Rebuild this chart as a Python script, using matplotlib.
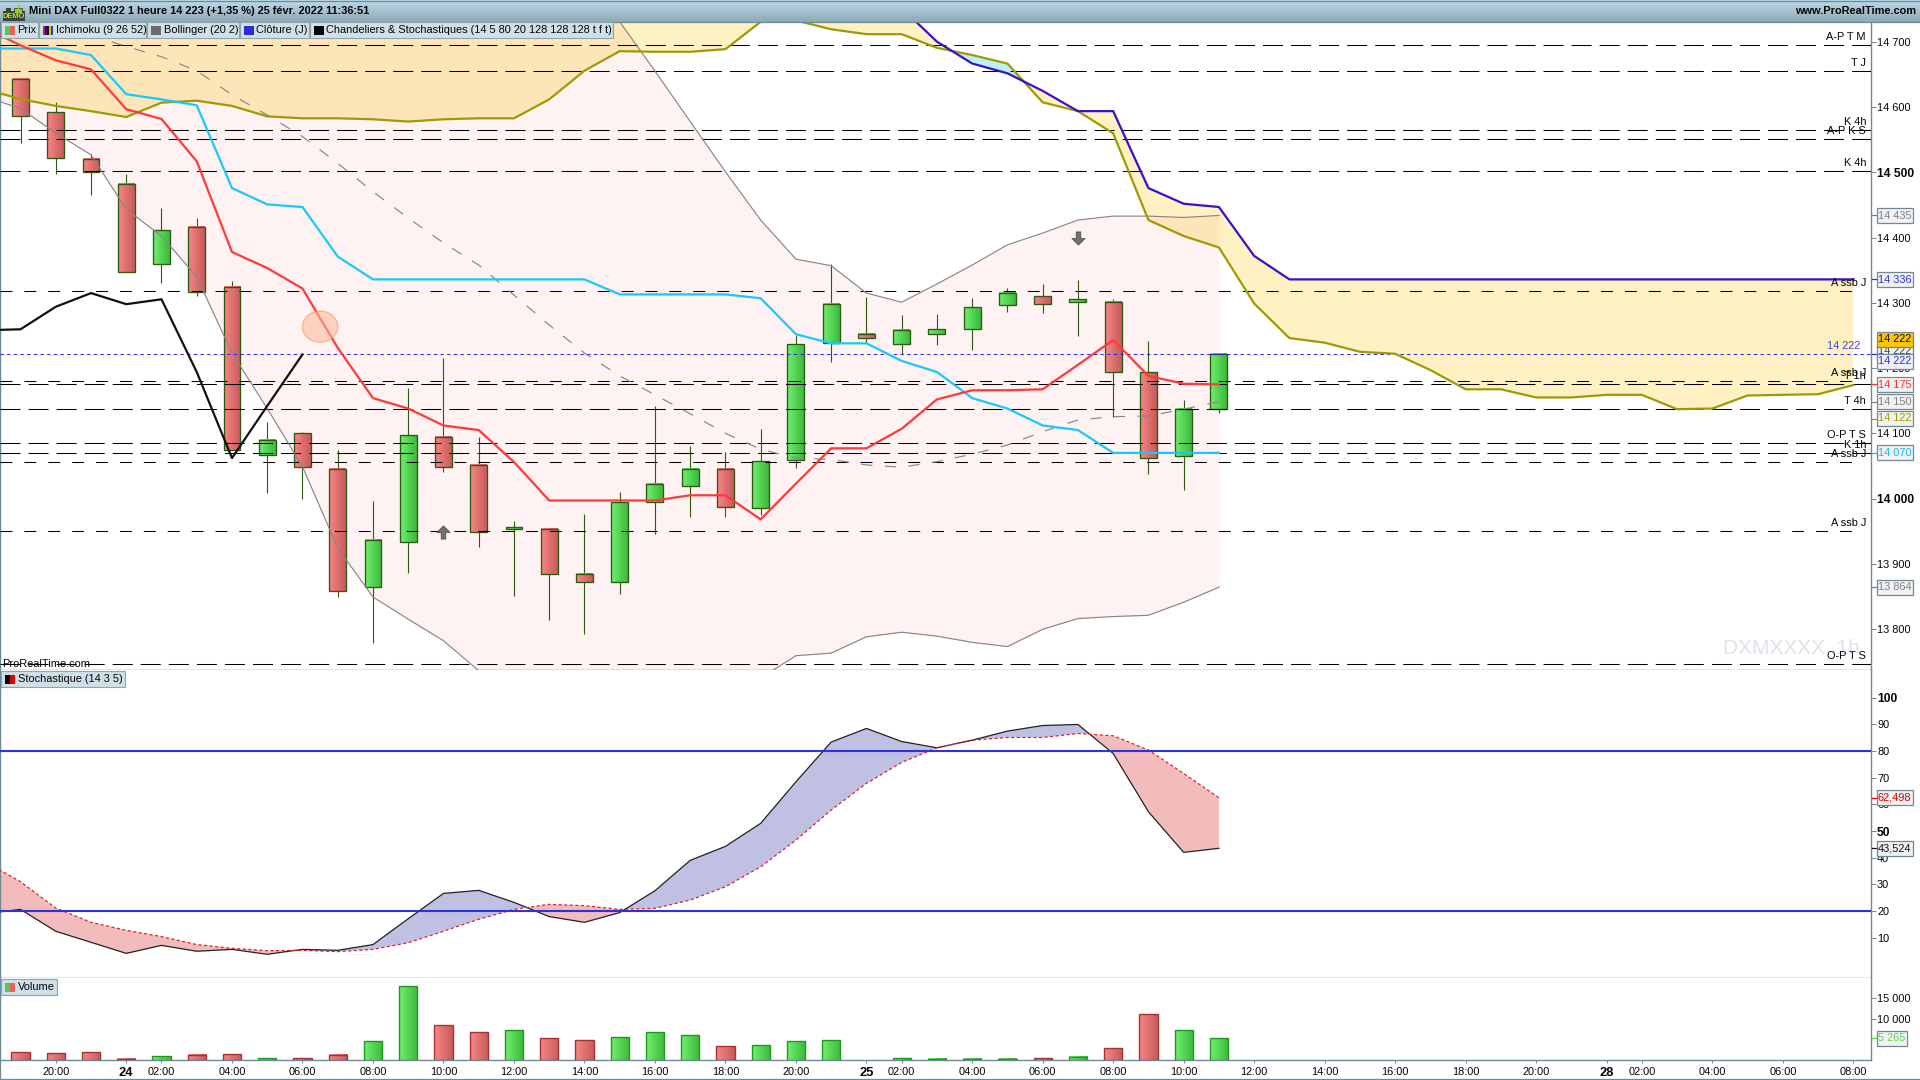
import numpy as np
import matplotlib
matplotlib.use("Agg")
import matplotlib.pyplot as plt
from matplotlib.patches import Rectangle, Ellipse
from matplotlib.path import Path

plt.rcParams['font.family'] = ['Liberation Sans', 'DejaVu Sans']
plt.rcParams['lines.scale_dashes'] = False

# ---------- data ----------
opens = [14643,14592,14520,14483,14359,14416,14325,14066,14100,14046,13864,13934,14095,14051,13953,13954,13885,13871.5,
         13994,14019,14046,13985,14059,14238,14253,14236.5,14253,14259.5,14296,14310,14302,14301,14193.5,14065,14137]
closes = [14586,14522,14500,14347,14411,14316,14075,14089,14049,13858,13937,14098,14049,13948,13956,13884,13871.5,13994,
          14023,14046,13986.5,14057,14236.5,14299,14246,14258,14259.5,14293,14315,14298,14305.5,14193.5,14062,14138,14222]
highs = [14644,14607.5,14528,14498,14445.5,14430,14333.5,14117,14101.5,14075,13996,14169,14215,14095,13965,13955,13976,14009.5,
         14142,14080,14072,14106,14251,14359,14309,14281,14283,14307.5,14323,14329,14335,14306,14241.5,14151,14223]
lows = [14545.6,14498,14466,14347,14331,14311,14075,14009,14000,13849,13779,13886,14041,13925,13851,13813,13793,13854,
        13945,13971,13971,13974,14047,14210,14238.5,14222,14236,14227,14286,14285,14249,14125,14038,14013.5,14131.5]

tenkan = [14721,14695,14672,14658,14597,14582,14517,14378,14353.5,14322,14231,14154,14138,14112,14105,14056,13997,13997,13997,
          13997,14005,14005,13968,14023,14077,14077,14107,14152,14166,14166,14167.5,14205,14243,14188,14176,14175]
kijun = [14690,14690,14690,14680,14620,14612,14603,14476,14451,14447,14371,14336,14336,14336,14336,14336,14336,14336,14313,
         14313,14313,14313,14307,14252,14238,14238,14211,14194,14154,14138,14112,14105,14070,14070,14070,14070]
chikou = [14258,14259.5,14294,14315,14298,14305.5,14194,14062,14142,14221]
senkou_b = [14627.5,14612.6,14602,14594,14585,14607,14610,14602,14586,14583,14583,14581.5,14578,14581.5,14583,14583,14612,14656,14686,
            14685,14685,14689,14731,14733,14719.5,14712,14712,14691,14680,14667,14607.5,14594,14560,14427,14402.5,14385,14299,
            14246,14239,14225,14222,14197,14167.5,14167.5,14155,14155,14159,14159,14137,14138,14158,14159,14160,14174]
senkou_a = [14800]*26 + [14752,14700.5,14667,14652,14625,14594,14594,14476,14452,14447,14372,
            14336,14336,14336,14336,14336,14336,14336,14336,14336,14336,14336,14336,14336,14336,14336,14336,14336]
boll_up = [14900,14900,14900,14900,14900,14900,14900,14900,14900,14900,14900,14900,14900,14890,14870,14850,14830,14790,14731,
           14655.5,14578,14501,14427,14367,14357,14315,14301,14329,14358,14389,14407,14427,14433,14433,14431,14434]
boll_mid = [14760,14745,14726,14711,14693,14677.5,14656,14619,14588,14555,14514,14470.5,14430,14392,14358,14312,14266,14223,14188,
            14159,14130,14100,14075.5,14062,14060,14051.5,14048,14056.5,14068,14082,14102.5,14120.5,14125.5,14126.5,14137,14148.5]
boll_low = [14616,14598,14560.5,14527,14443.5,14402.5,14340,14223,14138,14049,13924,13849,13815,13782,13736,13700,13680,13670,13665,
            13670,13680,13700,13725,13759,13763,13788,13795,13789,13779.5,13773,13799.5,13816,13819,13821,13841,13864]

level_prices = [14695,14656,14565,14552,14502,14318,14180,14175,14138,14085,14069.5,14055.5,13950,13747]
level_names = ['A-P T M','T J','K 4h','A-P K S','K 4h','A ssb J','A ssb J','T 1h','T 4h','O-P T S','K 1h','A ssb J','A ssb J','O-P T S']
last_price = 14222

stoch_k = [19,20.6,12.4,8.25,4.1,7.1,4.9,5.6,3.75,5.6,5.25,7.4,17.1,26.6,27.75,23.25,17.9,15.75,19.4,27.6,39,44.25,52.9,68.5,
           83.4,88.5,83.6,81.25,84.1,87.5,89.6,90,79.1,57.25,42,43.524]
stoch_d = [38.5,31,21.1,15.75,12.75,10.4,7.4,6,5.1,5.25,4.75,5.6,8.1,12.4,16.9,20.6,22.5,22,20.6,21,24.1,29.1,36.6,46.6,57.9,
           67.9,75.75,81.25,84.1,85.1,85.1,86.6,85.75,80.4,71.6,62.498]
stoch_levels = [80,20]

volumes = [1932,1690,1932,322,966,1208,1449,483,483,1208,4589,17871,8453,6762,7245,5313,4830,5555,6762,6038,3381,3623,4589,4830,
           0,483,242,242,242,483,725,2898,11109,7245,5265]
vol_up = [0,0,0,0,1,0,0,1,0,0,1,1,0,0,1,0,0,1,1,1,0,1,1,1,1,1,1,1,1,0,1,0,0,1,1]

time_pos = [1,3,4,6,8,10,12,14,16,18,20,22,24,25,27,29,31,33,35,37,39,41,43,45,46,48,50,52]
time_labels = ['20:00','24','02:00','04:00','06:00','08:00','10:00','12:00','14:00','16:00','18:00','20:00','25','02:00',
               '04:00','06:00','08:00','10:00','12:00','14:00','16:00','18:00','20:00','28','02:00','04:00','06:00','08:00']
price_ticks = [14700,14600,14500,14400,14300,14200,14100,14000,13900,13800]
price_labels = ['14 700','14 600','14 500','14 400','14 300','14 200','14 100','14 000','13 900','13 800']
stoch_ticks = [100,90,80,70,60,50,40,30,20,10]
vol_ticks = [15000,10000]
vol_labels = ['15 000','10 000']

# ---------- layout ----------
W, H = 1920, 1080
fig = plt.figure(figsize=(19.2, 10.8), dpi=100, facecolor='white')
AXIS_X = 1871
BORDER = '#6f8a96'
PX = 0.72
FS = 7.95
FSB = 8.7

def panel(top, bottom):
    ax = fig.add_axes([0, 1 - bottom / H, AXIS_X / W, (bottom - top) / H])
    ax.set_facecolor('white')
    for s in ['top']:
        ax.spines[s].set_visible(False)
    for s in ['left', 'right', 'bottom']:
        ax.spines[s].set_color(BORDER)
        ax.spines[s].set_linewidth(1.0)
    ax.yaxis.tick_right()
    ax.tick_params(axis='y', length=3.6, width=PX, color=BORDER, pad=0.8, labelsize=FS, labelcolor='#050505')
    ax.tick_params(axis='x', bottom=False, labelbottom=False)
    return ax

ax = panel(22, 670)
ax2 = panel(670, 978)
ax3 = panel(978, 1060)

xlim = (-0.5816, 52.5)
x_line = np.arange(-1, 35)

def gradient(a, i, w, lo, hi, c1, c2, z=3):
    c = np.linspace(matplotlib.colors.to_rgb(c1), matplotlib.colors.to_rgb(c2), 16)[None, :, :]
    a.imshow(c, extent=(i - w, i + w, lo, hi), aspect='auto', zorder=z, interpolation='bilinear')

# ---------- main panel ----------
x_cloud = np.arange(-1, 53)
sa, sb = np.array(senkou_a, float), np.array(senkou_b, float)
ax.fill_between(x_cloud, sa, sb, where=sa >= sb, interpolate=True, color='#fff1c2', lw=0, zorder=1)
ax.fill_between(x_cloud, sa, sb, where=sa < sb, interpolate=True, color='#bdeefa', lw=0, zorder=1)
ax.fill_between(x_line, boll_up, boll_low, color=(240/255, 40/255, 40/255), alpha=0.06, lw=0, zorder=1.5)

# candles
w = 0.24
for i, (o, c, h, l) in enumerate(zip(opens, closes, highs, lows)):
    up = c >= o
    lo, hi = min(o, c), max(o, c)
    ax.plot([i, i], [l, h], color='#2c5a10', lw=0.8, zorder=2.8, solid_capstyle='butt')
    cols = ('#6fee6f', '#3dba3d') if up else ('#f78484', '#c85c5c')
    gradient(ax, i, w, lo, hi, *cols)
    ax.add_patch(Rectangle((i - w, lo), 2 * w, hi - lo, fill=False, ec='#2c5a10', lw=0.95, zorder=3.2))

# levels
for k, p in enumerate(level_prices):
    if level_names[k] == 'A ssb J':
        ax.plot([xlim[0], 52.2], [p, p], color='black', lw=0.75, dashes=(8.6, 8.6), zorder=4)
    else:
        ax.plot(xlim, [p, p], color='black', lw=0.75, dashes=(14.4, 5.8), zorder=4)
ax.axhline(last_price, color='#2a2ae6', lw=0.75, dashes=(2.4, 2.4), zorder=4)

# ichimoku & bollinger
ax.plot(x_line, boll_up, color='#8c8585', lw=0.85, zorder=4.2)
ax.plot(x_line, boll_low, color='#8c8585', lw=0.85, zorder=4.2)
ax.plot(x_line, boll_mid, color='#8c8585', lw=0.85, dashes=(8, 9), zorder=4.2)
ax.plot(x_cloud, sb, color='#9e9a05', lw=1.6, zorder=4.5)
ax.plot(x_cloud, sa, color='#3a10c8', lw=1.6, zorder=4.6)
ax.plot(x_line, kijun, color='#18c8ff', lw=1.6, zorder=4.7)
ax.plot(x_line, tenkan, color='#ff3a3a', lw=1.6, zorder=4.8)
ax.plot(np.arange(-1, 9), chikou, color='#111111', lw=1.6, zorder=4.9)

# shapes
ax.add_patch(Ellipse((8.5, 14263.5), 1.0, 47.5, fc='#ffb89a', ec='#ff8c50', alpha=0.55, lw=1.0, zorder=5))
arrow_up = Path([(-0.35,-1),(0.35,-1),(0.35,0),(1,0),(0,1),(-1,0),(-0.35,0),(-0.35,-1)], closed=True)
arrow_dn = Path([(-0.35,1),(0.35,1),(0.35,0),(1,0),(0,-1),(-1,0),(-0.35,0),(-0.35,1)], closed=True)
ax.scatter([12], [13949], marker=arrow_up, s=90, c='#707070', edgecolors='#444444', linewidths=0.5, zorder=5)
ax.scatter([30], [14399], marker=arrow_dn, s=90, c='#707070', edgecolors='#444444', linewidths=0.5, zorder=5)

ax.set_xlim(*xlim)
ax.set_ylim(14700 - (670 - 42) * 1.5333, 14700 + 20 * 1.5333)
ax.set_xticks([])
ax.set_yticks(price_ticks)
ax.set_yticklabels(price_labels)
for t, v in zip(ax.get_yticklabels(), price_ticks):
    if v in (14500, 14000):
        t.set_fontweight('bold'); t.set_fontsize(FSB)

# ---------- stochastic ----------
sk, sd = np.array(stoch_k, float), np.array(stoch_d, float)
ax2.fill_between(x_line, sk, sd, where=sk >= sd, interpolate=True, color='#c0c0e2', lw=0, zorder=1)
ax2.fill_between(x_line, sk, sd, where=sk < sd, interpolate=True, color='#f2bcbc', lw=0, zorder=1)
ax2.plot(x_line, sk, color='#222222', lw=0.9, zorder=3)
ax2.plot(x_line, sd, color='#e0202a', lw=0.9, dashes=(2.2, 1.8), zorder=3)
for v in stoch_levels:
    ax2.axhline(v, color='#3030dc', lw=1.5, zorder=4)
ax2.set_xlim(*xlim)
ax2.set_ylim(20 - (978 - 911) / 2.665, 20 + (911 - 670) / 2.665)
ax2.set_xticks([])
ax2.set_yticks(stoch_ticks)
ax2.set_yticklabels([str(v) for v in stoch_ticks])
for t, v in zip(ax2.get_yticklabels(), stoch_ticks):
    if v in (100, 50):
        t.set_fontweight('bold'); t.set_fontsize(FSB)

# ---------- volume ----------
vw = 0.26
for i, (v, u) in enumerate(zip(volumes, vol_up)):
    if v <= 0:
        continue
    cols = ('#6fee6f', '#3dba3d') if u else ('#f88686', '#c85c5c')
    gradient(ax3, i, vw, 0, v, *cols)
    ax3.add_patch(Rectangle((i - vw, 0), 2 * vw, v, fill=False,
                            ec='#1c9a1c' if u else '#a83232', lw=1.0, zorder=3.2))
ax3.set_xlim(*xlim)
ax3.set_ylim(0, 82 / 0.00414)
ax3.set_yticks(vol_ticks)
ax3.set_yticklabels(vol_labels)
ax3.set_xticks(time_pos)
ax3.set_xticklabels(time_labels)
ax3.tick_params(axis='x', bottom=True, labelbottom=True, length=2.4, width=PX, color=BORDER, pad=2.6, labelsize=FS, labelcolor='#050505')
for t, s in zip(ax3.get_xticklabels(), time_labels):
    if len(s) == 2:
        t.set_fontweight('bold'); t.set_fontsize(FSB + 0.6)

# ---------- chrome (pixel coordinates) ----------
fig.canvas.draw()
ch = fig.add_axes([0, 0, 1, 1], zorder=10)
ch.set_xlim(0, W); ch.set_ylim(H, 0)
ch.axis('off'); ch.patch.set_alpha(0)

def ypx(a, v):
    return H - a.transData.transform((0, v))[1]

# header
grad = np.linspace(matplotlib.colors.to_rgb('#bcd9e7'), matplotlib.colors.to_rgb('#8eaab6'), 22)[:, None, :]
ch.imshow(grad, extent=(0, W, 22, 0), aspect='auto', zorder=1)
ch.plot([0, W], [0.5, 0.5], color='#6f8a96', lw=0.9, zorder=2)
ch.plot([0, W], [21.8, 21.8], color='#6f8a96', lw=0.9, zorder=2)
ch.set_xlim(0, W); ch.set_ylim(H, 0)
ch.text(29, 11.5, 'Mini DAX Full0322 1 heure 14 223 (+1,35 %) 25 févr. 2022 11:36:51', fontsize=FS, fontweight='bold',
        color='#050505', va='center', ha='left', zorder=3)
ch.text(1916, 11.5, 'www.ProRealTime.com', fontsize=FS, fontweight='bold', color='#050505', va='center', ha='right', zorder=3)
# DEMO icon
ch.add_patch(Rectangle((3, 11), 22, 9.5, fc='#39463c', ec='none', zorder=3))
ch.add_patch(Rectangle((14, 8), 8, 5, fc='#8fd01c', ec='#39463c', lw=0.6, zorder=3))
ch.add_patch(Rectangle((6, 8), 5, 4, fc='#39463c', ec='none', zorder=3))
ch.plot([18, 18], [4.5, 9], color='#8fd01c', lw=1, zorder=3)
ch.text(14, 16, 'DEMO', fontsize=5.4, fontweight='bold', color='#b4e22a', ha='center', va='center', zorder=4)

BOX = '#cfe0e8'
def legend_box(x0, x1, y0, y1, label, icons, text_x):
    ch.add_patch(Rectangle((x0, y0), x1 - x0, y1 - y0, fc=BOX, ec='#8ea5b0', lw=0.8, zorder=5))
    n = len(icons)
    for j, c in enumerate(icons):
        ch.add_patch(Rectangle((x0 + 4 + j * 10 / n, y0 + 3.5), 10 / n, 9.5, fc=c, ec='none', zorder=6))
    ch.text(text_x, (y0 + y1) / 2 + 0.3, label, fontsize=FS, color='#050505', va='center', ha='left', zorder=6)

legend_box(1, 38, 22, 38, 'Prix', ['#55c855', '#e86060'], 17.5)
legend_box(39, 146, 22, 38, 'Ichimoku (9 26 52)', ['#d02020', '#1515a0', '#101010', '#e0c010', '#2040c0'], 55.5)
legend_box(147, 239, 22, 38, 'Bollinger (20 2)', ['#6b6b6b'], 163.5)
legend_box(240, 309, 22, 38, 'Clôture (J)', ['#2a2ae0'], 256.5)
legend_box(310, 613, 22, 38, 'Chandeliers & Stochastiques (14 5 80 20 128 128 128 t f t)', ['#050505'], 326.5)
legend_box(1, 125, 671, 687, 'Stochastique (14 3 5)', ['#050505', '#e00000'], 17.5)
legend_box(1, 57, 979, 995, 'Volume', ['#55c855', '#e86060'], 17.5)

# level labels
for p, n in zip(level_prices, level_names):
    ch.text(1866, ypx(ax, p) - 8, n, fontsize=FS, color='#050505', ha='right', va='center', zorder=4)
ch.text(1860, ypx(ax, last_price) - 7.5, '14 222', fontsize=FS, color='#4040e0', ha='right', va='center', zorder=4)
ch.text(2.5, 664, 'ProRealTime.com', fontsize=FS, color='#050505', ha='left', va='center', zorder=4)
ch.text(1860, 648, 'DXMXXXX  1h', fontsize=15, color='#dfe2ea', ha='right', va='center', zorder=3.5)

# value boxes on the axis
def value_box(a, v, txt, col, y=None, fc='#f2f2f2', width=36, tick=True, z=7):
    yy = ypx(a, v) if y is None else y
    ch.add_patch(Rectangle((1876.5, yy - 7.5), width, 15, fc=fc, ec=BORDER, lw=0.9, zorder=z))
    ch.text(1877.5, yy + 0.2, txt, fontsize=FS, color=col, ha='left', va='center', zorder=z)
    if tick:
        ch.plot([1871.5, 1876], [ypx(a, v)] * 2, color=col, lw=0.9, zorder=z)

value_box(ax, 14434, '14 435', '#808080')
value_box(ax, 14336, '14 336', '#3030d8')
value_box(ax, 14222, '14 222', '#404040', y=351, z=6, tick=False)
value_box(ax, 14222, '14 222', '#101010', y=339, fc='#ffc400', z=7, tick=False)
value_box(ax, 14222, '14 222', '#3030d8', y=361, fc='#f0f0f8', z=8)
value_box(ax, 14175, '14 175', '#f03030')
value_box(ax, 14148.5, '14 150', '#808080')
value_box(ax, 14122, '14 122', '#9e9a05', y=418)
value_box(ax, 14070, '14 070', '#18b8f0')
value_box(ax, 13864, '13 864', '#808080')
value_box(ax2, 62.498, '62,498', '#e00000')
value_box(ax2, 43.524, '43,524', '#101010')
value_box(ax3, 5265, '5 265', '#50d850', width=30)

# bottom border
ch.plot([0, W], [1079.3, 1079.3], color=BORDER, lw=0.9, zorder=3)
ch.plot([0.4, 0.4], [1060, 1079], color=BORDER, lw=0.9, zorder=3)
ch.set_xlim(0, W); ch.set_ylim(H, 0)

fig.savefig('out.png', dpi=100, facecolor='white')
